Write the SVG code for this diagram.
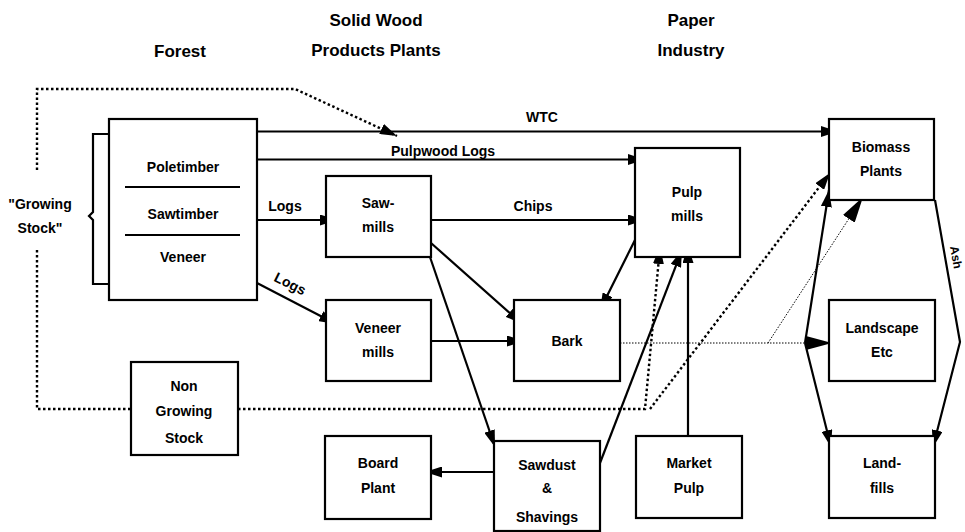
<svg xmlns="http://www.w3.org/2000/svg" width="965" height="532" viewBox="0 0 965 532">
<style>
.box{fill:#fff;stroke:#000;stroke-width:2.2}
.ln{fill:none;stroke:#000;stroke-width:2.2}
.dot{fill:none;stroke:#000;stroke-width:2.4;stroke-dasharray:2.5 2.5}
.fine{fill:none;stroke:#000;stroke-width:1;stroke-dasharray:1.5 1.5}
text{font-family:"Liberation Sans",Arial,sans-serif;font-weight:bold;font-size:14px;text-anchor:middle;fill:#000}
.hd{font-size:17px}
</style>
<defs>
<marker id="a" markerUnits="userSpaceOnUse" markerWidth="17" markerHeight="11" refX="17" refY="5.5" orient="auto" viewBox="0 0 17 11"><path d="M0,0 L17,5.5 L0,11 z" fill="#000"/></marker>
<marker id="b" markerUnits="userSpaceOnUse" markerWidth="26" markerHeight="14" refX="26" refY="7" orient="auto" viewBox="0 0 26 14"><path d="M0,0 L26,7 L0,14 z" fill="#000"/></marker>
</defs>

<g id="headers">
<text class="hd" x="180" y="57">Forest</text>
<text class="hd" x="376" y="26">Solid Wood</text>
<text class="hd" x="376" y="56">Products Plants</text>
<text class="hd" x="691" y="26">Paper</text>
<text class="hd" x="691" y="56">Industry</text>
</g>

<g id="connectors">
<line class="ln" x1="257" y1="131.5" x2="838" y2="131.5" marker-end="url(#a)"/>
<line class="ln" x1="257" y1="159.5" x2="645" y2="159.5" marker-end="url(#a)"/>
<line class="ln" x1="257" y1="220" x2="337" y2="220" marker-end="url(#a)"/>
<line class="ln" x1="431" y1="220" x2="645" y2="220" marker-end="url(#a)"/>
<line class="ln" x1="257" y1="283" x2="336" y2="324" marker-end="url(#a)"/>
<line class="ln" x1="431" y1="243" x2="522" y2="324" marker-end="url(#a)"/>
<line class="ln" x1="431" y1="341" x2="524" y2="341" marker-end="url(#a)"/>
<line class="ln" x1="635" y1="240" x2="600" y2="310" marker-end="url(#a)"/>
<line class="ln" x1="430" y1="257" x2="495" y2="447" marker-end="url(#a)"/>
<line class="ln" x1="494" y1="472" x2="425" y2="472" marker-end="url(#a)"/>
<line class="ln" x1="600" y1="463" x2="682" y2="250" marker-end="url(#a)"/>
<line class="ln" x1="688" y1="436" x2="688" y2="246" marker-end="url(#a)"/>
<path class="dot" d="M37,170 V89 H295 L397,136" marker-end="url(#a)"/>
<path class="dot" d="M37,250 V409 H131"/>
<path class="dot" d="M238,409 H645 L660,247" marker-end="url(#a)"/>
<path class="dot" d="M650,409 L830,173" marker-end="url(#a)"/>
<line class="fine" x1="620" y1="343" x2="832" y2="343" marker-end="url(#b)"/>
<line class="fine" x1="768" y1="343" x2="863" y2="197" marker-end="url(#b)"/>
<line class="ln" x1="805" y1="343" x2="829" y2="190" marker-end="url(#a)"/>
<line class="ln" x1="805" y1="343" x2="831" y2="447" marker-end="url(#a)"/>
<path class="ln" d="M935,200 L960,342 L933,447" marker-end="url(#a)"/>
<text transform="translate(952,258) rotate(80)" style="font-size:12px">Ash</text>
<text x="542" y="122">WTC</text>
<text x="443" y="156">Pulpwood Logs</text>
<text x="285" y="211">Logs</text>
<text x="533" y="211">Chips</text>
<text transform="translate(288,288) rotate(27)">Logs</text>
</g>

<g id="growing-stock">
<path class="ln" d="M108,134 H93 V212 L89,216 L93,220 V284 H108"/>
<text x="40" y="209">"Growing</text>
<text x="40" y="233">Stock"</text>
</g>

<g id="forest">
<rect class="box" x="109" y="119" width="148" height="181"/>
<line class="ln" x1="125" y1="187" x2="240" y2="187"/>
<line class="ln" x1="125" y1="235" x2="240" y2="235"/>
<text x="183" y="172">Poletimber</text>
<text x="183" y="219">Sawtimber</text>
<text x="183" y="262">Veneer</text>
</g>

<g id="sawmills">
<rect class="box" x="326" y="176" width="105" height="81"/>
<text x="378" y="208">Saw-</text>
<text x="378" y="232">mills</text>
</g>

<g id="pulpmills">
<rect class="box" x="635" y="148" width="105" height="109"/>
<text x="687" y="197">Pulp</text>
<text x="687" y="221">mills</text>
</g>

<g id="biomass">
<rect class="box" x="829" y="119" width="105" height="81"/>
<text x="881" y="152">Biomass</text>
<text x="881" y="176">Plants</text>
</g>

<g id="veneermills">
<rect class="box" x="326" y="300" width="105" height="81"/>
<text x="378" y="333">Veneer</text>
<text x="378" y="357">mills</text>
</g>

<g id="bark">
<rect class="box" x="514" y="300" width="106" height="81"/>
<text x="567" y="346">Bark</text>
</g>

<g id="landscape">
<rect class="box" x="829" y="300" width="106" height="81"/>
<text x="882" y="333">Landscape</text>
<text x="882" y="357">Etc</text>
</g>

<g id="nongrowing">
<rect class="box" x="131" y="362" width="107" height="93"/>
<text x="184" y="391">Non</text>
<text x="184" y="416">Growing</text>
<text x="184" y="443">Stock</text>
</g>

<g id="board">
<rect class="box" x="325" y="436" width="106" height="83"/>
<text x="378" y="468">Board</text>
<text x="378" y="493">Plant</text>
</g>

<g id="sawdust">
<rect class="box" x="494" y="441" width="106" height="90"/>
<text x="547" y="470">Sawdust</text>
<text x="547" y="493">&amp;</text>
<text x="547" y="522">Shavings</text>
</g>

<g id="marketpulp">
<rect class="box" x="636" y="436" width="106" height="82"/>
<text x="689" y="468">Market</text>
<text x="689" y="493">Pulp</text>
</g>

<g id="landfills">
<rect class="box" x="829" y="436" width="106" height="82"/>
<text x="882" y="468">Land-</text>
<text x="882" y="493">fills</text>
</g>
</svg>
